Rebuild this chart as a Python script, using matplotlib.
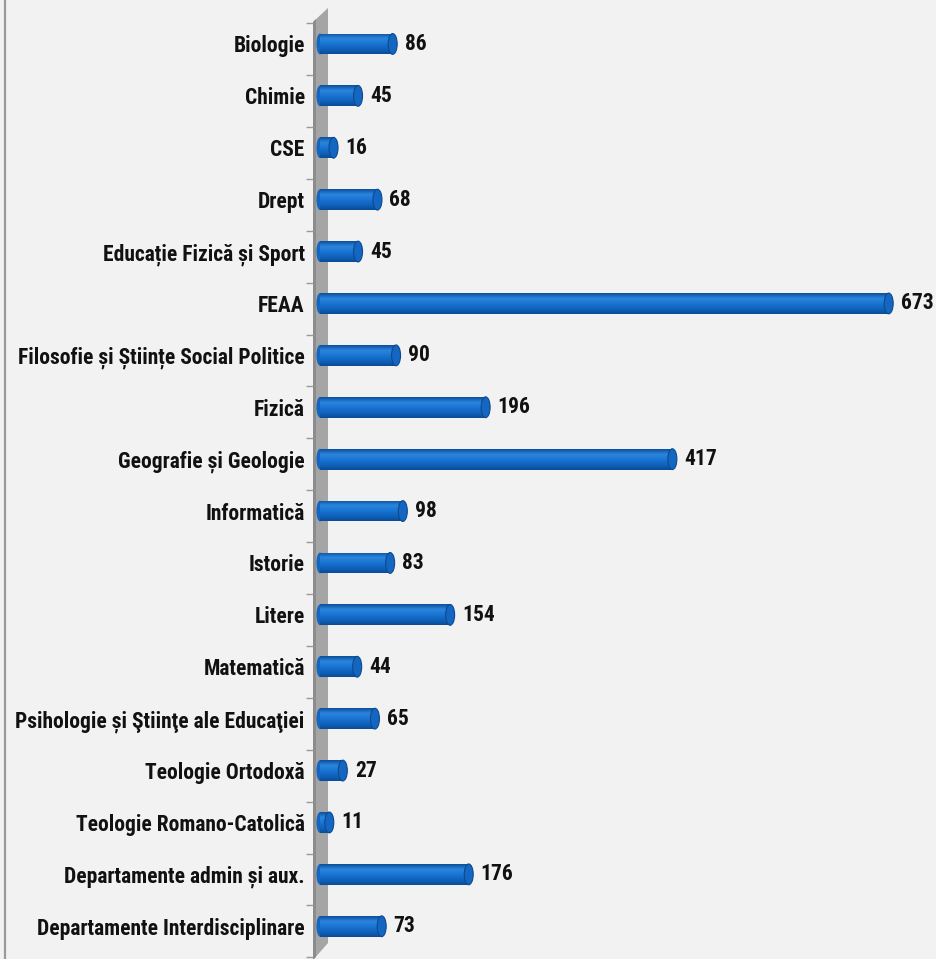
import matplotlib
matplotlib.use("Agg")
import matplotlib.pyplot as plt
import numpy as np
from matplotlib.patches import Polygon, Rectangle, Ellipse
from matplotlib.lines import Line2D
from matplotlib.colors import LinearSegmentedColormap
from matplotlib import font_manager

categories = [
    "Biologie", "Chimie", "CSE", "Drept", "Educație Fizică și Sport", "FEAA",
    "Filosofie și Științe Social Politice", "Fizică", "Geografie și Geologie",
    "Informatică", "Istorie", "Litere", "Matematică",
    "Psihologie și Ştiinţe ale Educaţiei", "Teologie Ortodoxă",
    "Teologie Romano-Catolică", "Departamente admin și aux.",
    "Departamente Interdisciplinare",
]
values = [86, 45, 16, 68, 45, 673, 90, 196, 417, 98, 83, 154, 44, 65, 27, 11, 176, 73]

names = {f.name for f in font_manager.fontManager.ttflist}
FONT = ["Roboto", "DejaVu Sans"]
for cand in ["Liberation Sans Narrow", "Roboto Condensed", "Open Sans Condensed"]:
    if cand in names:
        FONT = [cand, "DejaVu Sans"]
        break

W, H = 937, 959
fig = plt.figure(figsize=(W / 100, H / 100), dpi=100)
fig.patch.set_facecolor("#f2f2f2")

ax_left, ax_right = 313, 905
ax_top, ax_bottom = 18, 959
ax = fig.add_axes([ax_left / W, 1 - ax_bottom / H, (ax_right - ax_left) / W, (ax_bottom - ax_top) / H])
ax.set_facecolor("none")
ax.set_zorder(2)
pxu = 0.845
x0 = -(320 - ax_left) / pxu
ax.set_xlim(x0, x0 + (ax_right - ax_left) / pxu)
n = len(categories)
span = (ax_bottom - ax_top) / 51.9
ax.set_ylim(-0.5 + span, -0.5)

def fpt(x, y):
    return (x / W, 1 - y / H)

wall = Polygon([fpt(313, 22), fpt(328, 8), fpt(328, 943), fpt(313, 960)],
               closed=True, transform=fig.transFigure, facecolor="#a5a5a5",
               edgecolor="none", zorder=-1)
fig.patches.append(wall)
wall_edge = Polygon([fpt(313, 22), fpt(316, 19), fpt(316, 957), fpt(313, 960)],
                    closed=True, transform=fig.transFigure, facecolor="#8c8c8c",
                    edgecolor="none", zorder=-1)
fig.patches.append(wall_edge)
fig.add_artist(Line2D([5.5 / W, 5.5 / W], [0, 1], transform=fig.transFigure,
                      color="#9a9a9a", lw=1.6, zorder=-1))

cmap = LinearSegmentedColormap.from_list(
    "cyl", ["#0d4f9c", "#2b86de", "#1a74d2", "#0f63bd", "#0a4c97"])
grad = np.linspace(0, 1, 64).reshape(-1, 1)

bh = 0.4
cap_w = 9 / pxu
fs = 15.5 if FONT[0] != "Roboto" else 13.5
for i, v in enumerate(values):
    y0, y1 = i - bh / 2, i + bh / 2
    rect = Rectangle((0, y0), v, bh, facecolor="none", edgecolor="none")
    ax.add_patch(rect)
    im = ax.imshow(grad, aspect="auto", cmap=cmap, extent=[0, v, y1, y0],
                   zorder=2, interpolation="bilinear")
    im.set_clip_path(rect)
    cap = Ellipse((v, i), cap_w, bh, facecolor="#1466c0", edgecolor="#0b4a90",
                  lw=0.8, zorder=3)
    ax.add_patch(cap)
    lcap = Ellipse((0, i), cap_w * 0.8, bh, facecolor="#1466c0", edgecolor="none", zorder=1.9)
    ax.add_patch(lcap)
    ax.text(v + 12 / pxu, i, str(v), va="center", ha="left", fontsize=fs,
            fontweight="bold", family=FONT, color="#111111")

ax.set_yticks(range(n))
ax.set_yticklabels(categories, family=FONT, fontsize=fs, fontweight="bold", color="#111111")
ax.tick_params(axis="y", length=0, pad=6)
ax.set_yticks([i - 0.5 + 0.1 for i in range(n + 1)], minor=True)
ax.tick_params(axis="y", which="minor", length=5, color="#9a9a9a", width=1, direction="out")
ax.set_xticks([])
for s in ax.spines.values():
    s.set_visible(False)

fig.savefig("out.png", dpi=100, facecolor=fig.get_facecolor())
